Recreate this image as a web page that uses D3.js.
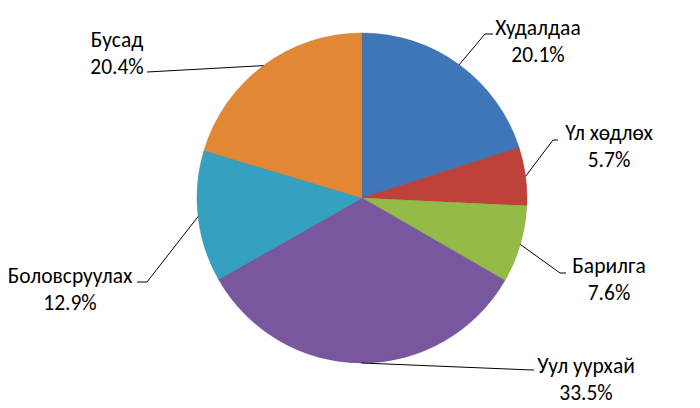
<!DOCTYPE html>
<html><head><meta charset="utf-8">
<script src="https://cdn.jsdelivr.net/npm/d3@7"></script>
<style>html,body{margin:0;padding:0;background:#fff}svg{display:block}</style>
</head><body><svg id="c" width="700" height="408"></svg>
<script>
const categories = ["Худалдаа","Үл хөдлөх","Барилга","Уул уурхай","Боловсруулах","Бусад"];
const values = [20.1, 5.7, 7.6, 33.5, 12.9, 20.4];
const valueLabels = ["20.1%","5.7%","7.6%","33.5%","12.9%","20.4%"];
const colors = ["#4581C8","#D0473F","#A2CC4E","#845FAE","#3AB0D2","#F7953A"];
// layout: label centre x, first baseline y, leader elbow point and end
const labelLayout = [
  {x:538, y:35, elbow:[485,34], end:[493,34]},
  {x:609, y:140, elbow:[553,140], end:[558,140]},
  {x:609, y:273, elbow:[560,273], end:[566,273]},
  {x:586, y:373, elbow:[532,370], end:[534,370]},
  {x:70, y:283, elbow:[147,282], end:[137,282]},
  {x:117, y:47, elbow:[147,72], end:[147,72]}
];
const cx=362, cy=198, R=165;
const svg=d3.select("#c");
const defs=svg.append("defs");
colors.forEach((c,i)=>{
  const g=defs.append("radialGradient").attr("id","g"+i).attr("gradientUnits","userSpaceOnUse")
    .attr("cx",cx).attr("cy",cy).attr("r",R);
  const base=d3.color(c);
  g.append("stop").attr("offset","0%").attr("stop-color",base);
  g.append("stop").attr("offset","90%").attr("stop-color",base);
  g.append("stop").attr("offset","96%").attr("stop-color",base.brighter(0.3));
  g.append("stop").attr("offset","100%").attr("stop-color",base.darker(0.25));
});
const pie=d3.pie().sort(null).value(d=>d)(values);
const arc=d3.arc().innerRadius(0).outerRadius(R);
const g=svg.append("g").attr("transform",`translate(${cx},${cy})`);
g.selectAll("path").data(pie).join("path")
  .attr("d",arc).attr("fill",(d,i)=>`url(#g${i})`)
  .attr("stroke",(d,i)=>d3.color(colors[i]).darker(0.8)).attr("stroke-width",0.8).attr("stroke-opacity",0.5);
// leaders
const lines=svg.append("g").attr("fill","none").attr("stroke","#000").attr("stroke-width",1);
pie.forEach((d,i)=>{
  const a=(d.startAngle+d.endAngle)/2;
  const p=[cx+R*Math.sin(a), cy-R*Math.cos(a)];
  const L=labelLayout[i];
  lines.append("path").attr("d",d3.line()([p,L.elbow,L.end]));
});
const txt=svg.append("g").attr("font-family","Carlito, Lato, 'Open Sans', sans-serif").attr("font-size",21.5).attr("fill","#000").attr("text-anchor","middle");
categories.forEach((c,i)=>{
  const L=labelLayout[i];
  const t=txt.append("text").attr("x",L.x).attr("y",L.y);
  t.append("tspan").attr("x",L.x).text(c);
  t.append("tspan").attr("x",L.x).attr("dy",27).text(valueLabels[i]);
});
</script></body></html>
